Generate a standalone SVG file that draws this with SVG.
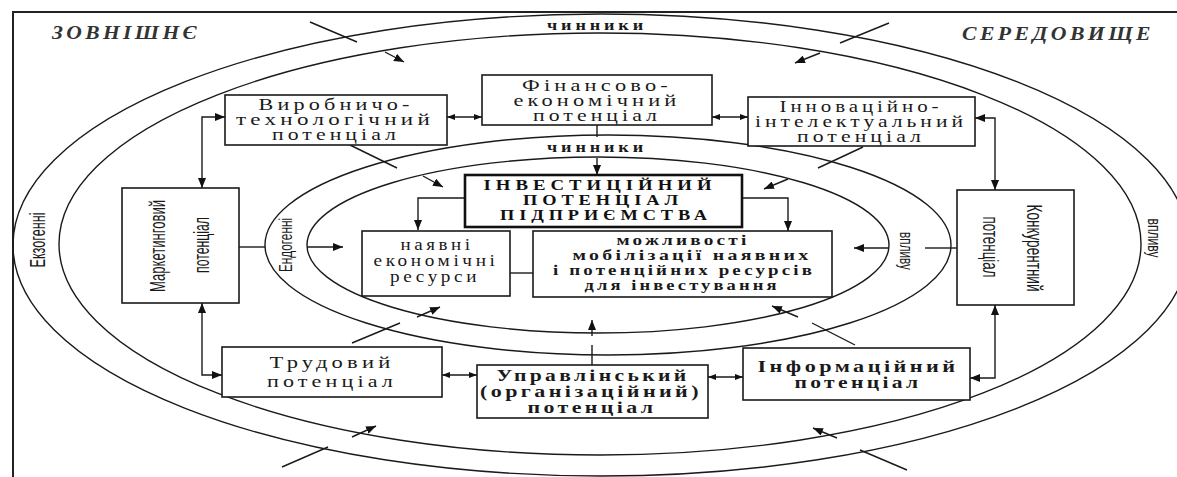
<svg xmlns="http://www.w3.org/2000/svg" width="1177" height="477" viewBox="0 0 1177 477">
<style>
.bg{fill:#fff}
.frame{fill:none;stroke:#222;stroke-width:2}
.ell{fill:none;stroke:#1a1a1a;stroke-width:1.4}
.box{fill:#fff;stroke:#1a1a1a;stroke-width:1.6}
.boxb{fill:#fff;stroke:#111;stroke-width:2.6}
.ln{fill:none;stroke:#1a1a1a;stroke-width:1.4}
.ar{fill:none;stroke:#1a1a1a;stroke-width:1.4;marker-end:url(#ah)}
.ar2{fill:none;stroke:#1a1a1a;stroke-width:1.4;marker-start:url(#ah);marker-end:url(#ah)}
.dar{fill:none;stroke:#1a1a1a;stroke-width:1.6;marker-start:url(#as);marker-end:url(#as)}
.t{font-family:"Liberation Serif","Times New Roman",serif;font-size:16px;letter-spacing:3px;fill:#1a1a1a;text-anchor:middle}
.tb{font-family:"Liberation Serif","Times New Roman",serif;font-size:16px;letter-spacing:2.5px;font-weight:bold;fill:#1a1a1a;text-anchor:middle}
.tm{font-family:"Liberation Serif","Times New Roman",serif;font-size:15px;letter-spacing:2.5px;font-weight:bold;fill:#1a1a1a;text-anchor:middle}
.cap{font-family:"Liberation Serif","Times New Roman",serif;font-size:15px;letter-spacing:4px;font-weight:bold;fill:#111;text-anchor:middle}
.small{font-family:"Liberation Serif","Times New Roman",serif;font-size:14px;letter-spacing:3px;font-weight:bold;fill:#1a1a1a;text-anchor:middle}
.it{font-family:"Liberation Serif","Times New Roman",serif;font-size:19px;letter-spacing:3px;font-style:italic;font-weight:bold;fill:#333}
.nar{font-family:"Liberation Sans",Arial,sans-serif;font-size:22px;fill:#1a1a1a;text-anchor:middle}
.nar2{font-family:"Liberation Sans",Arial,sans-serif;font-size:18px;fill:#1a1a1a;text-anchor:middle}
</style>
<defs>
<marker id="ah" viewBox="0 0 10 8" refX="10" refY="4" markerWidth="10" markerHeight="8" markerUnits="userSpaceOnUse" orient="auto-start-reverse"><path d="M0,0 L10,4 L0,8 z" fill="#111"/></marker>
<marker id="as" viewBox="0 0 8 6" refX="8" refY="3" markerWidth="8" markerHeight="6" markerUnits="userSpaceOnUse" orient="auto-start-reverse"><path d="M0,0 L8,3 L0,6 z" fill="#111"/></marker>
</defs>
<rect class="bg" x="0" y="0" width="1177" height="477"/>
<g id="frame">
<path class="frame" d="M13,477 L13,12 L1177,12"/>
<ellipse class="ell" cx="601" cy="245" rx="588" ry="231"/>
<ellipse class="ell" cx="600" cy="244" rx="541" ry="211"/>
<ellipse class="ell" cx="608" cy="245" rx="343" ry="110"/>
<ellipse class="ell" cx="598" cy="245" rx="291" ry="88"/>
</g>
<g id="labels">
<text class="it" x="52" y="39" textLength="148" lengthAdjust="spacingAndGlyphs">ЗОВНІШНЄ</text>
<text class="it" x="962" y="40" textLength="192" lengthAdjust="spacingAndGlyphs">СЕРЕДОВИЩЕ</text>
<text class="small" x="597" y="30" textLength="100" lengthAdjust="spacingAndGlyphs">чинники</text>
<text class="small" x="597" y="152" textLength="100" lengthAdjust="spacingAndGlyphs">чинники</text>
<text class="nar" transform="translate(45,240) rotate(-90)" textLength="55" lengthAdjust="spacingAndGlyphs">Екзогенні</text>
<text class="nar2" transform="translate(292,245) rotate(-90)" textLength="54" lengthAdjust="spacingAndGlyphs">Ендогенні</text>
<text class="nar2" transform="translate(900,251) rotate(90)" textLength="38" lengthAdjust="spacingAndGlyphs">впливу</text>
<text class="nar2" transform="translate(1148,238) rotate(90)" textLength="39" lengthAdjust="spacingAndGlyphs">впливу</text>
</g>
<g id="connectors">
<path class="ln" d="M310,22 L357,42"/>
<path class="ar" d="M385,52 L404,62"/>
<path class="ln" d="M889,23 L840,43"/>
<path class="ar" d="M820,53 L795,63"/>
<path class="ln" d="M282,467 L328,447"/>
<path class="ar" d="M352,437 L376,426"/>
<path class="ln" d="M907,470 L860,450"/>
<path class="ar" d="M837,438 L813,428"/>
<path class="ln" d="M350,145 L397,168"/>
<path class="ar" d="M423,176 L443,187"/>
<path class="ln" d="M863,147 L818,168"/>
<path class="ar" d="M788,179 L764,189"/>
<path class="ln" d="M352,343 L400,323"/>
<path class="ar" d="M417,317 L440,307"/>
<path class="ln" d="M855,345 L812,323"/>
<path class="ar" d="M798,317 L772,306"/>
<path class="dar" d="M447,117 L482,117"/>
<path class="dar" d="M712,117 L748,117"/>
<path class="dar" d="M442,375 L477,375"/>
<path class="dar" d="M708,377 L743,377"/>
<path class="ar2" d="M202,188 L202,117 L225,117"/>
<path class="ar2" d="M202,303 L202,375 L222,375"/>
<path class="ar2" d="M975,118 L995,118 L995,190"/>
<path class="ar2" d="M995,305 L995,378 L970,378"/>
<path class="ln" d="M597,125 L597,137"/>
<path class="ar" d="M597,158 L597,175"/>
<path class="ar" d="M465,198 L418,198 L418,230"/>
<path class="ar" d="M742,198 L788,198 L788,231"/>
<path class="ln" d="M239,247 L265,247"/>
<path class="ar" d="M307,247 L343,247"/>
<path class="ln" d="M957,248 L925,248"/>
<path class="ar" d="M888,248 L854,248"/>
<path class="ln" d="M510,273 L533,273"/>
<path class="ln" d="M592,365 L592,345" stroke="#666"/>
<path class="ar" d="M592,336 L592,320"/>
</g>
<g id="n-finance">
<rect class="box" x="482" y="75" width="230" height="50"/>
<text class="t" x="597" y="91" textLength="150" lengthAdjust="spacingAndGlyphs">Фінансово-</text>
<text class="t" x="597" y="106" textLength="167" lengthAdjust="spacingAndGlyphs">економічний</text>
<text class="t" x="597" y="121" textLength="128" lengthAdjust="spacingAndGlyphs">потенціал</text>
</g>
<g id="n-production">
<rect class="box" x="225" y="95" width="222" height="50"/>
<text class="t" x="336" y="110" textLength="155" lengthAdjust="spacingAndGlyphs">Виробничо-</text>
<text class="t" x="335" y="125" textLength="198" lengthAdjust="spacingAndGlyphs">технологічний</text>
<text class="t" x="336" y="140" textLength="128" lengthAdjust="spacingAndGlyphs">потенціал</text>
</g>
<g id="n-innovation">
<rect class="box" x="748" y="97" width="227" height="49"/>
<text class="t" x="861" y="112" textLength="163" lengthAdjust="spacingAndGlyphs">Інноваційно-</text>
<text class="t" x="861" y="127" textLength="212" lengthAdjust="spacingAndGlyphs">інтелектуальний</text>
<text class="t" x="861" y="142" textLength="128" lengthAdjust="spacingAndGlyphs">потенціал</text>
</g>
<g id="n-marketing">
<rect class="box" x="122" y="188" width="117" height="115"/>
<text class="nar" transform="translate(165,246) rotate(-90)" textLength="92" lengthAdjust="spacingAndGlyphs">Маркетинговий</text>
<text class="nar" transform="translate(209,245) rotate(-90)" textLength="56" lengthAdjust="spacingAndGlyphs">потенціал</text>
</g>
<g id="n-competitive">
<rect class="box" x="957" y="190" width="117" height="115"/>
<text class="nar" transform="translate(1027,248) rotate(90)" textLength="87" lengthAdjust="spacingAndGlyphs">Конкурентний</text>
<text class="nar" transform="translate(983,247) rotate(90)" textLength="61" lengthAdjust="spacingAndGlyphs">потенціал</text>
</g>
<g id="n-invest">
<rect class="boxb" x="465" y="175" width="277" height="52"/>
<text class="cap" x="600" y="190" textLength="233" lengthAdjust="spacingAndGlyphs">ІНВЕСТИЦІЙНИЙ</text>
<text class="cap" x="603" y="205" textLength="160" lengthAdjust="spacingAndGlyphs">ПОТЕНЦІАЛ</text>
<text class="cap" x="606" y="220" textLength="212" lengthAdjust="spacingAndGlyphs">ПІДПРИЄМСТВА</text>
</g>
<g id="n-resources">
<rect class="box" x="362" y="231" width="148" height="65"/>
<text class="t" x="437" y="250" textLength="73" lengthAdjust="spacingAndGlyphs">наявні</text>
<text class="t" x="436" y="266" textLength="125" lengthAdjust="spacingAndGlyphs">економічні</text>
<text class="t" x="435" y="282" textLength="90" lengthAdjust="spacingAndGlyphs">ресурси</text>
</g>
<g id="n-mobilization">
<rect class="box" x="533" y="231" width="299" height="66"/>
<text class="tm" x="683" y="245" textLength="133" lengthAdjust="spacingAndGlyphs">можливості</text>
<text class="tm" x="692" y="260" textLength="239" lengthAdjust="spacingAndGlyphs">мобілізації наявних</text>
<text class="tm" x="684" y="275" textLength="262" lengthAdjust="spacingAndGlyphs">і потенційних ресурсів</text>
<text class="tm" x="682" y="290" textLength="195" lengthAdjust="spacingAndGlyphs">для інвестування</text>
</g>
<g id="n-labour">
<rect class="box" x="222" y="347" width="220" height="50"/>
<text class="t" x="332" y="368" textLength="125" lengthAdjust="spacingAndGlyphs">Трудовий</text>
<text class="t" x="332" y="387" textLength="130" lengthAdjust="spacingAndGlyphs">потенціал</text>
</g>
<g id="n-management">
<rect class="box" x="477" y="365" width="231" height="53"/>
<text class="tb" x="593" y="381" textLength="193" lengthAdjust="spacingAndGlyphs">Управлінський</text>
<text class="tb" x="591" y="397" textLength="222" lengthAdjust="spacingAndGlyphs">(організаційний)</text>
<text class="tb" x="592" y="413" textLength="129" lengthAdjust="spacingAndGlyphs">потенціал</text>
</g>
<g id="n-information">
<rect class="box" x="743" y="348" width="227" height="52"/>
<text class="tb" x="858" y="372" textLength="201" lengthAdjust="spacingAndGlyphs">Інформаційний</text>
<text class="tb" x="858" y="388" textLength="127" lengthAdjust="spacingAndGlyphs">потенціал</text>
</g>
</svg>
